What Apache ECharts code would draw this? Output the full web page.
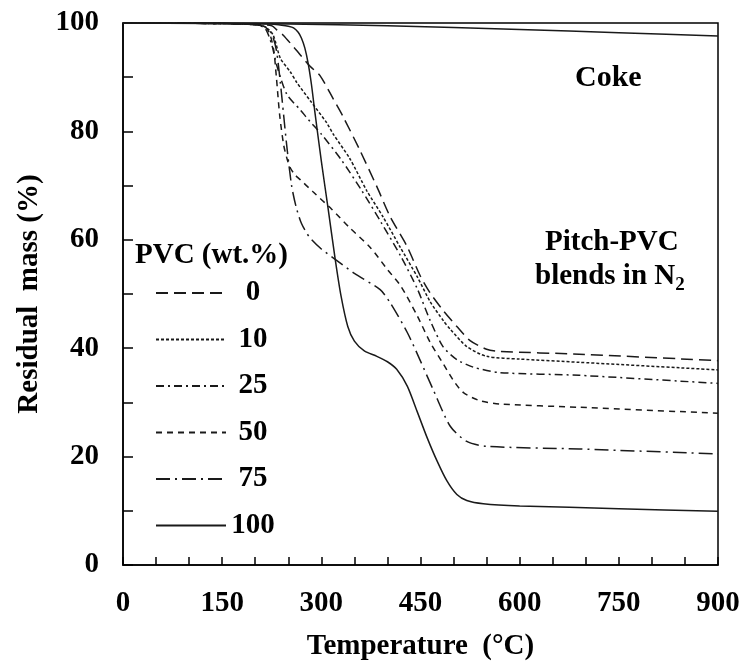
<!DOCTYPE html>
<html>
<head>
<meta charset="utf-8">
<script src="https://cdn.jsdelivr.net/npm/echarts@6/dist/echarts.min.js"></script>
<style>
  html, body { margin: 0; padding: 0; background: #fff; }
  #chart { width: 746px; height: 666px; }
</style>
</head>
<body>
<div id="chart"></div>
<script>
// Thermogravimetric curves of pitch-PVC blends in N2 (residual mass vs temperature)
const FONT = '"Liberation Serif", "Times New Roman", serif';

const pvcLabels = ['0', '10', '25', '50', '75', '100'];

const t0 = [0, 150, 200, 225, 233, 242, 260, 283, 298, 318, 333, 358, 384, 404, 430, 449, 464, 484, 505, 525, 550, 570, 690, 900];
const m0 = [100, 99.9, 99.7, 99.5, 98.7, 97.8, 95.3, 92, 90.3, 86, 82.7, 76.6, 69.8, 64.3, 58.7, 53.5, 50.3, 47, 44, 41.4, 39.8, 39.4, 38.9, 37.7];

const t10 = [0, 150, 200, 215, 227, 238, 253, 263, 283, 308, 318, 343, 369, 393, 419, 445, 465, 485, 495, 520, 550, 600, 690, 900];
const m10 = [100, 99.9, 99.7, 99.3, 97.8, 93.5, 91, 89, 85.7, 81.6, 79.5, 75, 69, 64.3, 58.7, 53.2, 48.5, 45, 43.5, 40.3, 38.5, 38, 37.4, 36];

const t25 = [0, 150, 200, 215, 225, 233, 248, 268, 283, 300, 330, 360, 390, 420, 445, 465, 484, 505, 530, 570, 690, 900];
const m25 = [100, 99.9, 99.7, 99, 96, 92, 86.8, 84, 81.8, 79.5, 74.8, 69.3, 63.3, 57, 51, 45, 40.3, 37.9, 36.5, 35.5, 35, 33.5];

const t50 = [0, 150, 200, 215, 222, 228, 232, 237, 243, 248, 253, 260, 268, 287, 316, 343, 374, 400, 420, 445, 465, 485, 500, 515, 540, 570, 690, 900];
const m50 = [100, 99.9, 99.7, 99.3, 98, 95, 90, 83, 77.5, 75, 73.3, 72, 71.1, 68.9, 65.6, 62.2, 58.6, 54.5, 51.5, 46, 41, 37, 34, 31.8, 30.3, 29.7, 29.1, 28];

const t75 = [0, 150, 200, 215, 225, 232, 238, 243, 248, 255, 262, 270, 282, 300, 321, 350, 389, 404, 430, 449, 469, 495, 520, 550, 690, 900];
const m75 = [100, 99.9, 99.7, 99.3, 98, 95, 89, 83, 77, 70, 66, 63, 60.5, 58.3, 56.4, 53.8, 50.8, 48.4, 42.9, 37.9, 32.4, 25.6, 22.8, 21.9, 21.4, 20.5];

const t100 = [0, 150, 200, 225, 240, 250, 258, 265, 270, 275, 280, 285, 290, 300, 310, 321, 330, 340, 350, 365, 384, 400, 414, 430, 445, 460, 475, 490, 505, 520, 545, 600, 750, 900];
const m100 = [100, 100, 99.9, 99.8, 99.6, 99.4, 99.1, 98.3, 97.2, 95.4, 92.6, 88.7, 83.8, 74.5, 66, 56.4, 49.5, 44, 41.3, 39.5, 38.5, 37.5, 36.1, 33, 28.3, 23.5, 19.2, 15.5, 13, 11.9, 11.3, 10.9, 10.4, 9.9];

const tCoke = [0, 250, 400, 600, 750, 900];
const mCoke = [100, 99.8, 99.5, 98.8, 98.2, 97.6];

const yTicks = [0, 20, 40, 60, 80, 100];
const xTicks = [0, 150, 300, 450, 600, 750, 900];

const pair = (t, m) => t.map((v, i) => [v, m[i]]);

const curves = [
  { name: '0',   data: pair(t0, m0),     dash: [12, 6] },
  { name: '10',  data: pair(t10, m10),   dash: [3, 2] },
  { name: '25',  data: pair(t25, m25),   dash: [8, 4, 2, 4] },
  { name: '50',  data: pair(t50, m50),   dash: [6, 5] },
  { name: '75',  data: pair(t75, m75),   dash: [14, 5, 2, 5] },
  { name: '100', data: pair(t100, m100), dash: 'solid' }
];

const series = curves.map(c => ({
  name: c.name,
  type: 'line',
  data: c.data,
  symbol: 'none',
  smooth: 0.25,
  lineStyle: { color: '#1a1a1a', width: 1.5, type: c.dash },
  itemStyle: { color: '#1a1a1a' },
  z: 3
}));

series.push({
  name: 'Coke',
  type: 'line',
  data: pair(tCoke, mCoke),
  symbol: 'none',
  smooth: 0.2,
  lineStyle: { color: '#1a1a1a', width: 1.5 },
  z: 3
});

const chart = echarts.init(document.getElementById('chart'));
chart.setOption({
  animation: false,
  backgroundColor: '#fff',
  grid: {
    left: 123, right: 28, top: 23, bottom: 100,
    show: true, borderColor: '#000', borderWidth: 1.5, backgroundColor: 'transparent'
  },
  xAxis: {
    type: 'value', min: 0, max: 900, interval: 50,
    name: 'Temperature  (°C)', nameLocation: 'middle', nameGap: 67,
    nameTextStyle: { fontFamily: FONT, fontWeight: 'bold', fontSize: 29, color: '#000' },
    axisLine: { show: true, lineStyle: { color: '#000', width: 1.5 } },
    axisTick: { show: true, inside: true, length: 8, lineStyle: { color: '#000', width: 1.5 } },
    splitLine: { show: false },
    axisLabel: {
      margin: 24, fontFamily: FONT, fontWeight: 'bold', fontSize: 29, color: '#000',
      formatter: v => (xTicks.includes(v) ? String(v) : '')
    }
  },
  yAxis: {
    type: 'value', min: 0, max: 100, interval: 10,
    name: 'Residual  mass (%)', nameLocation: 'middle', nameGap: 79,
    nameTextStyle: { fontFamily: FONT, fontWeight: 'bold', fontSize: 29, color: '#000' },
    axisLine: { show: true, lineStyle: { color: '#000', width: 1.5 } },
    axisTick: { show: true, inside: true, length: 10, lineStyle: { color: '#000', width: 1.5 } },
    splitLine: { show: false },
    axisLabel: {
      margin: 24, fontFamily: FONT, fontWeight: 'bold', fontSize: 29, color: '#000',
      formatter: v => (yTicks.includes(v) ? String(v) : '')
    }
  },
  legend: {
    data: pvcLabels,
    orient: 'vertical',
    left: 155, top: 278, padding: 0,
    itemWidth: 70, itemHeight: 14, itemGap: 16.5,
    itemStyle: { color: 'rgba(0,0,0,0)', borderWidth: 0, opacity: 0 },
    textStyle: {
      fontFamily: FONT, fontWeight: 'bold', fontSize: 29, color: '#000', lineHeight: 30,
      rich: { v: { fontFamily: FONT, fontWeight: 'bold', fontSize: 29, color: '#000', width: 44, align: 'center', lineHeight: 30 } }
    },
    formatter: n => '{v|' + n + '}',
    selectedMode: false
  },
  graphic: [
    { type: 'text', left: 135, top: 241,
      style: { text: 'PVC (wt.%)', fontFamily: FONT, fontWeight: 'bold', fontSize: 29, fill: '#000' } },
    { type: 'text', left: 575, top: 63,
      style: { text: 'Coke', fontFamily: FONT, fontWeight: 'bold', fontSize: 30, fill: '#000' } },
    { type: 'text', left: 545, top: 228,
      style: { text: 'Pitch-PVC', fontFamily: FONT, fontWeight: 'bold', fontSize: 29, fill: '#000' } },
    { type: 'text', left: 535, top: 262,
      style: {
        text: '{m|blends in N}{s|2}',
        rich: {
          m: { fontFamily: FONT, fontWeight: 'bold', fontSize: 29, fill: '#000', color: '#000', lineHeight: 36 },
          s: { fontFamily: FONT, fontWeight: 'bold', fontSize: 19, fill: '#000', color: '#000', lineHeight: 16, verticalAlign: 'bottom' }
        }
      } }
  ],
  series: series
});
</script>
</body>
</html>
